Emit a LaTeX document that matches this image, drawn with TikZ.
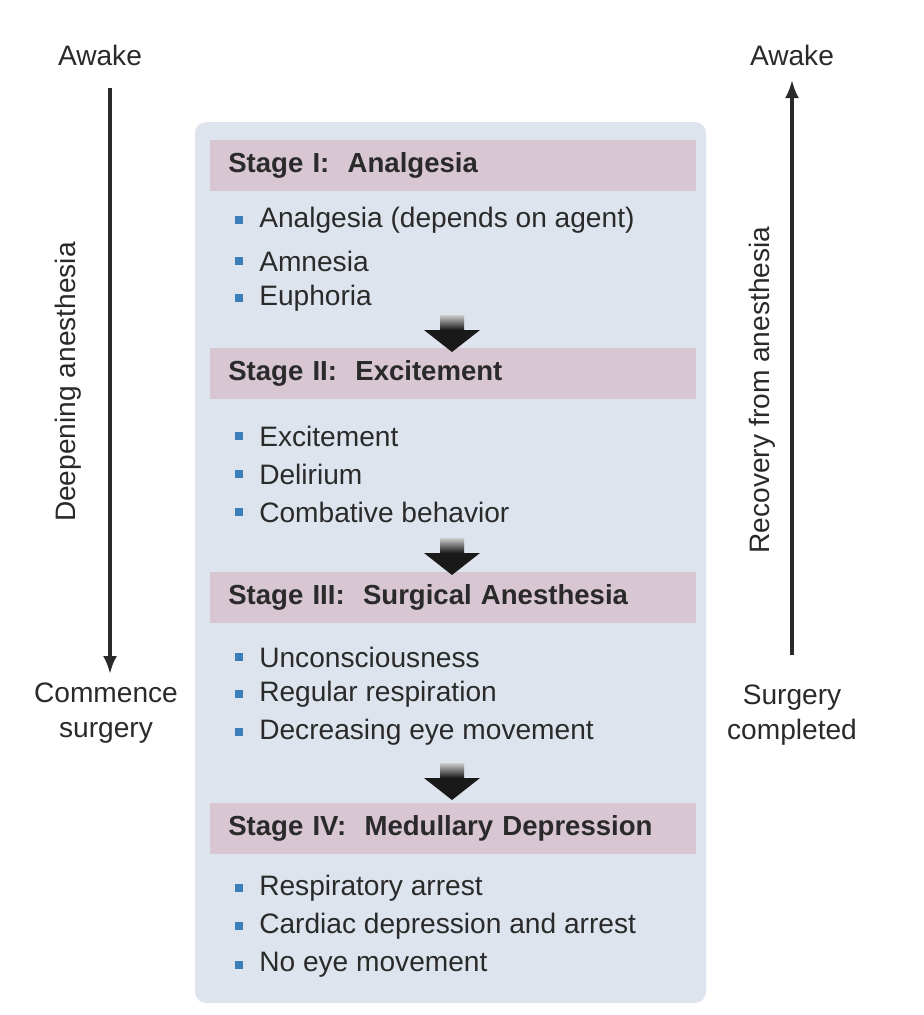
\documentclass[tikz,border=0pt]{standalone}
\usepackage{fontspec}
\setmainfont{Liberation Sans}
\usepackage{tikz}
\usetikzlibrary{positioning,arrows.meta}
\definecolor{panelblue}{HTML}{DDE4EE}
\definecolor{headmauve}{HTML}{D8C7D2}
\definecolor{bulletblue}{HTML}{3C7FB8}
\definecolor{textgray}{HTML}{2A2A2A}
\tikzset{
  stage/.style={fill=headmauve, minimum width=478*0.025cm, minimum height=51*0.025cm,
    anchor=north west, text=textgray, font=\fontsize{19.6}{23}\selectfont\bfseries,
    text width=450*0.025cm, inner xsep=0.45cm},
  item/.style={anchor=west, text=textgray, font=\fontsize{20}{24}\selectfont, inner sep=0pt},
  side/.style={text=textgray, font=\fontsize{20}{25}\selectfont, align=center, inner sep=0pt},
  bullet/.style={fill=bulletblue, minimum size=0.2cm, inner sep=0pt}
}
\newcommand{\fatarrow}[2]{%
  \shade[top color=gray!40, bottom color=black] (#1-12,#2) rectangle (#1+12,#2+17);
  \fill[black!90] (#1-28,#2+15) -- (#1+28,#2+15) -- (#1,#2+37) -- cycle;}
\begin{document}
\begin{tikzpicture}[x=0.025cm, y=-0.025cm]
\useasboundingbox (0,0) rectangle (923,1015);
\fill[white] (0,0) rectangle (923,1015);
% panel
\fill[panelblue, rounded corners=8] (195,122) rectangle (706,1003);
% stage headers
\node[stage] (s1) at (210,140) {Stage I:\ \ Analgesia};
\node[stage] (s2) at (210,348) {Stage II:\ \ Excitement};
\node[stage] (s3) at (210,572) {Stage III:\ \ Surgical Anesthesia};
\node[stage] (s4) at (210,803) {Stage IV:\ \ Medullary Depression};
% items
\foreach \y/\t in {220/Analgesia (depends on agent), 261/Amnesia, 298/Euphoria,
                   436/Excitement, 474/Delirium, 512/Combative behavior,
                   657/Unconsciousness, 694/Regular respiration, 732/Decreasing eye movement,
                   888/Respiratory arrest, 926/Cardiac depression and arrest, 965/No eye movement} {
  \node[bullet] at (239,\y) {};
  \node[item] at (259,\y) {\t};
}
% arrows between stages
\fatarrow{452}{315}
\fatarrow{452}{538}
\fatarrow{452}{763}
% left side
\node[side] (awakeL) at (100,55) {Awake};
\node[side] (commence) at (106,713) {Commence\\surgery};
\coordinate (lTop) at (110,88);
\coordinate (lBot) at (110,674);
\draw[line width=2.4pt, -{Latex[length=0.45cm,width=0.35cm]}, textgray] (lTop) -- (lBot);
\node[side, rotate=90] (deep) at (68,382) {Deepening anesthesia};
% right side
\node[side] (awakeR) at (792,55) {Awake};
\node[side] (done) at (792,715) {Surgery\\completed};
\coordinate (rBot) at (792,655);
\coordinate (rTop) at (792,80);
\draw[line width=2.4pt, -{Latex[length=0.45cm,width=0.35cm]}, textgray] (rBot) -- (rTop);
\node[side, rotate=90] (recov) at (762,390) {Recovery from anesthesia};
\end{tikzpicture}
\end{document}
